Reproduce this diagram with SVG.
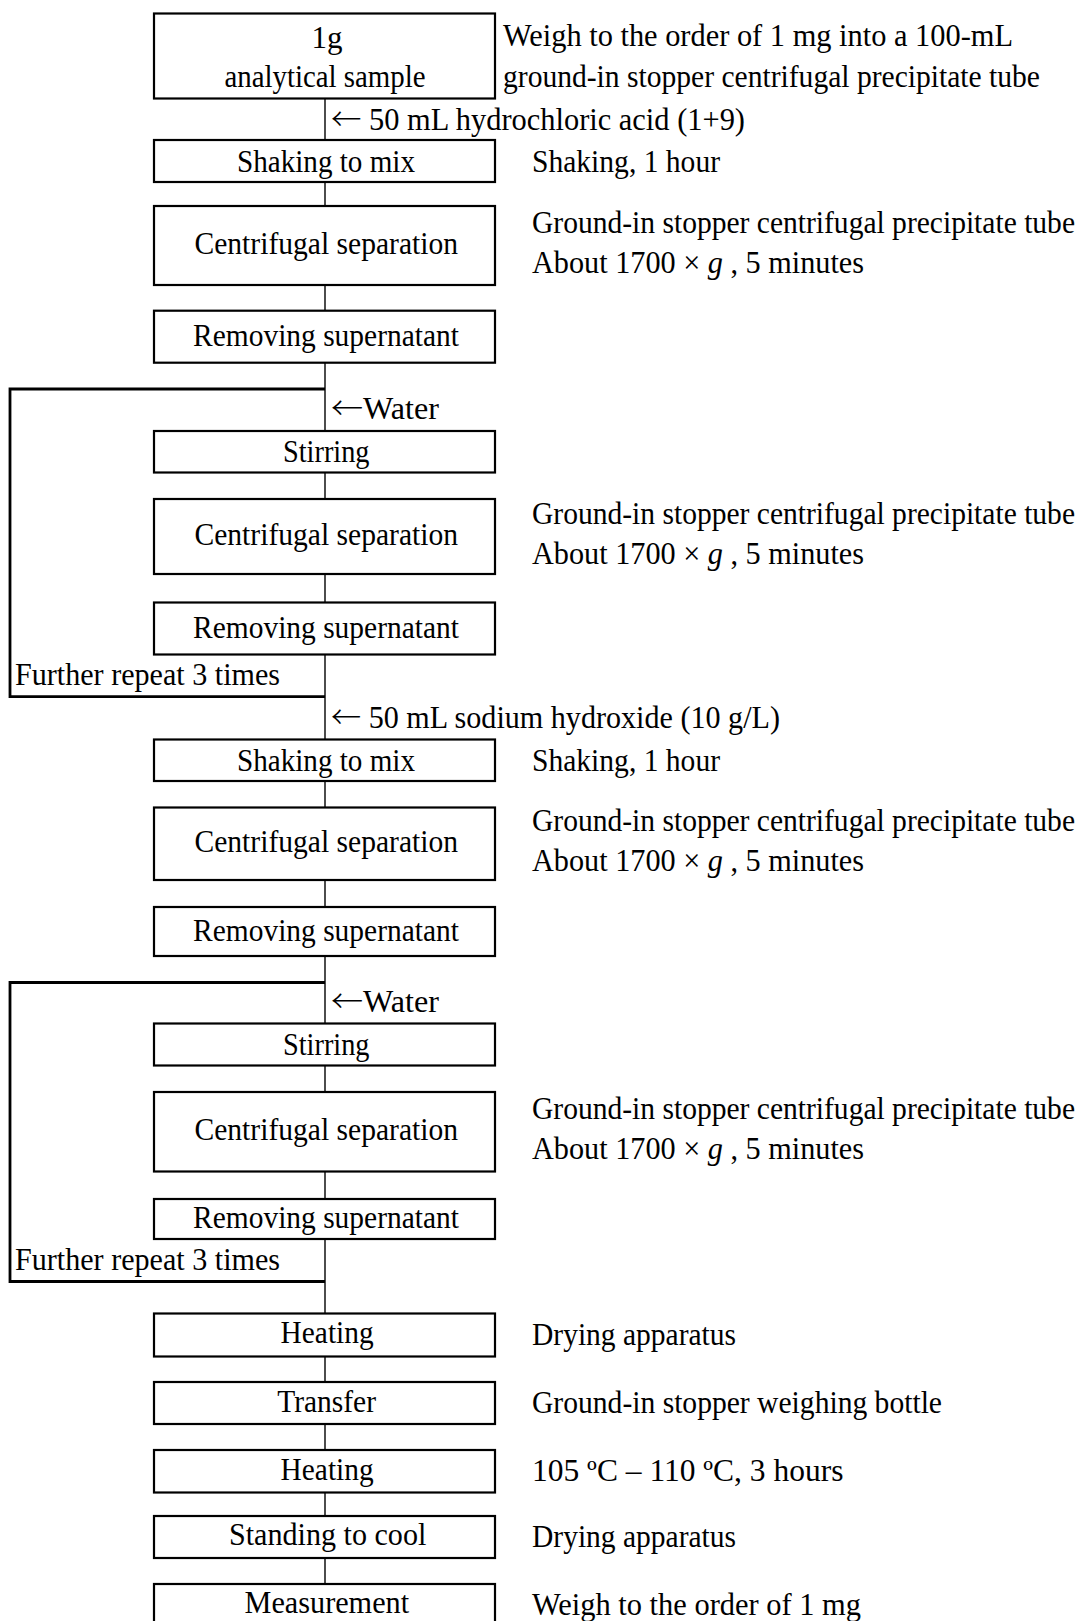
<svg xmlns="http://www.w3.org/2000/svg" width="1083" height="1621" viewBox="0 0 1083 1621">
<style>
text{font-family:"Liberation Serif","Times New Roman",serif;font-size:31px;fill:#000}
.ar{font-family:"Noto Sans CJK JP","DejaVu Sans",sans-serif;font-weight:300}
.box{fill:#fff;stroke:#000;stroke-width:2.2}
.conn{stroke:#000;stroke-width:1.4;fill:none}
.loop{stroke:#000;stroke-width:2.8;fill:none}
</style>
<rect width="1083" height="1621" fill="#fff"/>
<g id="connectors">
<line class="conn" x1="325" y1="98" x2="325" y2="1584"/>
<path class="loop" d="M325,389 H10 V696.7 H325"/>
<path class="loop" d="M325,982.5 H10 V1281.5 H325"/>
</g>
<g id="n1"><rect class="box" x="154" y="13.5" width="341" height="85"/>
<text x="311.5" y="48.3" textLength="31" lengthAdjust="spacingAndGlyphs">1g</text>
<text x="224.5" y="87.3" textLength="201" lengthAdjust="spacingAndGlyphs">analytical sample</text></g>
<g id="n2"><rect class="box" x="154" y="140" width="341" height="42"/>
<text x="237" y="171.7" textLength="178" lengthAdjust="spacingAndGlyphs">Shaking to mix</text></g>
<g id="n3"><rect class="box" x="154" y="206" width="341" height="79"/>
<text x="194.5" y="254" textLength="263.5" lengthAdjust="spacingAndGlyphs">Centrifugal separation</text></g>
<g id="n4"><rect class="box" x="154" y="310.7" width="341" height="52"/>
<text x="193" y="345.7" textLength="266" lengthAdjust="spacingAndGlyphs">Removing supernatant</text></g>
<g id="n5"><rect class="box" x="154" y="431" width="341" height="41.5"/>
<text x="283" y="462" textLength="86.5" lengthAdjust="spacingAndGlyphs">Stirring</text></g>
<g id="n6"><rect class="box" x="154" y="499" width="341" height="75"/>
<text x="194.5" y="545" textLength="263.5" lengthAdjust="spacingAndGlyphs">Centrifugal separation</text></g>
<g id="n7"><rect class="box" x="154" y="602.5" width="341" height="52"/>
<text x="193" y="638" textLength="266" lengthAdjust="spacingAndGlyphs">Removing supernatant</text></g>
<g id="n8"><rect class="box" x="154" y="739.5" width="341" height="41.5"/>
<text x="237" y="771" textLength="178" lengthAdjust="spacingAndGlyphs">Shaking to mix</text></g>
<g id="n9"><rect class="box" x="154" y="807.5" width="341" height="72.5"/>
<text x="194.5" y="852" textLength="263.5" lengthAdjust="spacingAndGlyphs">Centrifugal separation</text></g>
<g id="n10"><rect class="box" x="154" y="907" width="341" height="49"/>
<text x="193" y="941" textLength="266" lengthAdjust="spacingAndGlyphs">Removing supernatant</text></g>
<g id="n11"><rect class="box" x="154" y="1023.5" width="341" height="42"/>
<text x="283" y="1055" textLength="86.5" lengthAdjust="spacingAndGlyphs">Stirring</text></g>
<g id="n12"><rect class="box" x="154" y="1092" width="341" height="79.5"/>
<text x="194.5" y="1140" textLength="263.5" lengthAdjust="spacingAndGlyphs">Centrifugal separation</text></g>
<g id="n13"><rect class="box" x="154" y="1199" width="341" height="40"/>
<text x="193" y="1228.3" textLength="266" lengthAdjust="spacingAndGlyphs">Removing supernatant</text></g>
<g id="n14"><rect class="box" x="154" y="1313.5" width="341" height="43"/>
<text x="280.6" y="1343.3" textLength="93" lengthAdjust="spacingAndGlyphs">Heating</text></g>
<g id="n15"><rect class="box" x="154" y="1382" width="341" height="42"/>
<text x="277.2" y="1411.7" textLength="98.8" lengthAdjust="spacingAndGlyphs">Transfer</text></g>
<g id="n16"><rect class="box" x="154" y="1450" width="341" height="42.5"/>
<text x="280.6" y="1480" textLength="93" lengthAdjust="spacingAndGlyphs">Heating</text></g>
<g id="n17"><rect class="box" x="154" y="1516" width="341" height="42"/>
<text x="229" y="1545" textLength="197.3" lengthAdjust="spacingAndGlyphs">Standing to cool</text></g>
<g id="n18"><rect class="box" x="154" y="1584" width="341" height="60"/>
<text x="244.5" y="1612.7" textLength="164.6" lengthAdjust="spacingAndGlyphs">Measurement</text></g>
<g id="labels">
<text x="503" y="46" textLength="510" lengthAdjust="spacingAndGlyphs">Weigh to the order of 1 mg into a 100-mL</text>
<text x="503" y="87" textLength="537" lengthAdjust="spacingAndGlyphs">ground-in stopper centrifugal precipitate tube</text>
<text x="331" y="130" textLength="414" lengthAdjust="spacingAndGlyphs"><tspan class="ar">←</tspan> 50 mL hydrochloric acid (1+9)</text>
<text x="532" y="172" textLength="188" lengthAdjust="spacingAndGlyphs">Shaking, 1 hour</text>
<text x="532" y="232.5" textLength="543" lengthAdjust="spacingAndGlyphs">Ground-in stopper centrifugal precipitate tube</text>
<text x="532" y="272.5" textLength="332" lengthAdjust="spacingAndGlyphs">About 1700 × <tspan font-style="italic">g</tspan> , 5 minutes</text>
<text x="331" y="419" textLength="108" lengthAdjust="spacingAndGlyphs"><tspan class="ar">←</tspan>Water</text>
<text x="532" y="523.5" textLength="543" lengthAdjust="spacingAndGlyphs">Ground-in stopper centrifugal precipitate tube</text>
<text x="532" y="563.5" textLength="332" lengthAdjust="spacingAndGlyphs">About 1700 × <tspan font-style="italic">g</tspan> , 5 minutes</text>
<text x="15" y="685" textLength="265" lengthAdjust="spacingAndGlyphs">Further repeat 3 times</text>
<text x="331" y="728" textLength="449" lengthAdjust="spacingAndGlyphs"><tspan class="ar">←</tspan> 50 mL sodium hydroxide (10 g/L)</text>
<text x="532" y="771" textLength="188" lengthAdjust="spacingAndGlyphs">Shaking, 1 hour</text>
<text x="532" y="830.7" textLength="543" lengthAdjust="spacingAndGlyphs">Ground-in stopper centrifugal precipitate tube</text>
<text x="532" y="870.7" textLength="332" lengthAdjust="spacingAndGlyphs">About 1700 × <tspan font-style="italic">g</tspan> , 5 minutes</text>
<text x="331" y="1012" textLength="108" lengthAdjust="spacingAndGlyphs"><tspan class="ar">←</tspan>Water</text>
<text x="532" y="1118.7" textLength="543" lengthAdjust="spacingAndGlyphs">Ground-in stopper centrifugal precipitate tube</text>
<text x="532" y="1158.7" textLength="332" lengthAdjust="spacingAndGlyphs">About 1700 × <tspan font-style="italic">g</tspan> , 5 minutes</text>
<text x="15" y="1270" textLength="265" lengthAdjust="spacingAndGlyphs">Further repeat 3 times</text>
<text x="532" y="1345" textLength="204" lengthAdjust="spacingAndGlyphs">Drying apparatus</text>
<text x="532" y="1413" textLength="410" lengthAdjust="spacingAndGlyphs">Ground-in stopper weighing bottle</text>
<text x="532" y="1481" textLength="311.5" lengthAdjust="spacingAndGlyphs">105 ºC – 110 ºC, 3 hours</text>
<text x="532" y="1547" textLength="204" lengthAdjust="spacingAndGlyphs">Drying apparatus</text>
<text x="532" y="1615" textLength="329" lengthAdjust="spacingAndGlyphs">Weigh to the order of 1 mg</text>
</g>
</svg>
